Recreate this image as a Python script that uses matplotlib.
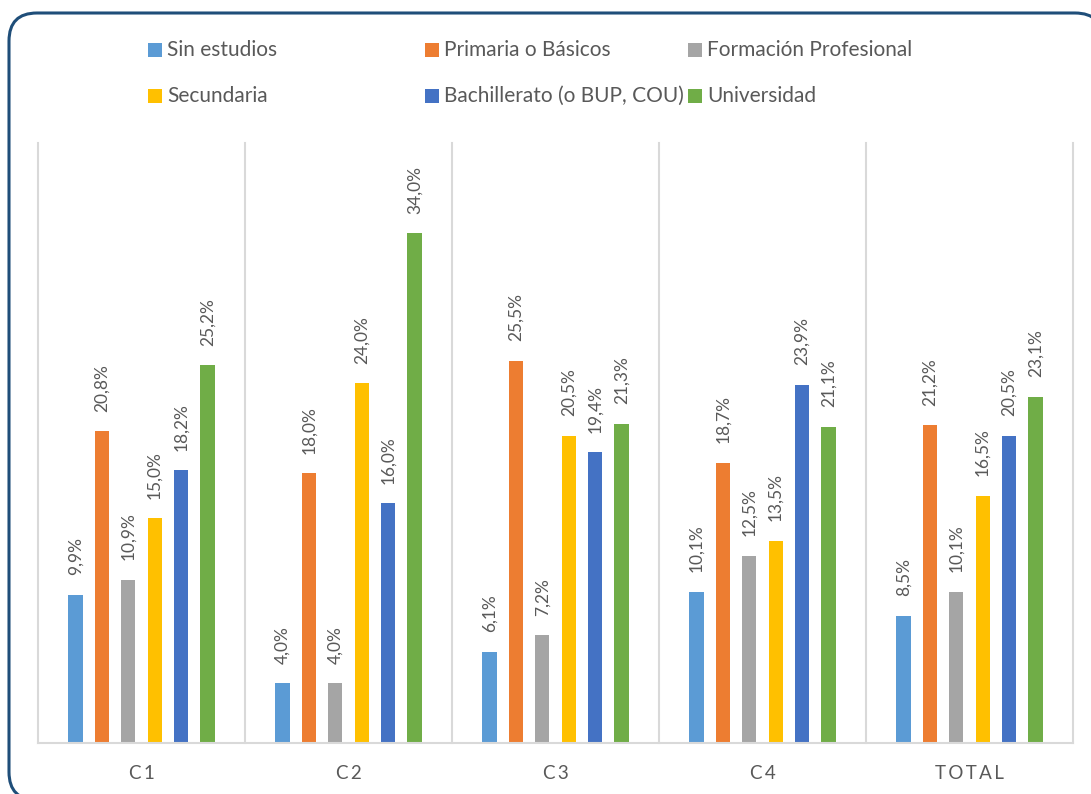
import matplotlib.pyplot as plt
import numpy as np
from matplotlib.patches import FancyBboxPatch, Rectangle

plt.rcParams['font.family'] = ['Lato', 'DejaVu Sans']

categories = ["C1", "C2", "C3", "C4", "TOTAL"]
series = ["Sin estudios", "Primaria o Básicos", "Formación Profesional",
          "Secundaria", "Bachillerato (o BUP, COU)", "Universidad"]
colors = ["#5B9BD5", "#ED7D31", "#A5A5A5", "#FFC000", "#4472C4", "#70AD47"]

sin_estudios = [9.9, 4.0, 6.1, 10.1, 8.5]
primaria = [20.8, 18.0, 25.5, 18.7, 21.2]
formacion = [10.9, 4.0, 7.2, 12.5, 10.1]
secundaria = [15.0, 24.0, 20.5, 13.5, 16.5]
bachillerato = [18.2, 16.0, 19.4, 23.9, 20.5]
universidad = [25.2, 34.0, 21.3, 21.1, 23.1]
values = [sin_estudios, primaria, formacion, secundaria, bachillerato, universidad]

W, H = 1091, 794
fig = plt.figure(figsize=(W / 100, H / 100), dpi=100)

# full-figure layer in pixel units for the frame and the legend
bg = fig.add_axes([0, 0, 1, 1])
bg.set_xlim(0, W)
bg.set_ylim(H, 0)
bg.axis("off")

ax = fig.add_axes([38 / W, 1 - 743 / H, (1073 - 38) / W, (743 - 143) / H])
ax.patch.set_alpha(0)

txt = "#595959"
grid_c = "#D9D9D9"
x = np.arange(len(categories))
step = 0.1275
bw = 0.068

for b in np.arange(-0.5, len(categories), 1.0):
    ax.axvline(b, color=grid_c, lw=1.5, zorder=0, clip_on=False)

for i, (name, vals, c) in enumerate(zip(series, values, colors)):
    pos = x + (i - 2.5) * step
    ax.bar(pos, vals, width=bw, color=c, zorder=2)
    for px, v in zip(pos, vals):
        ax.annotate(f"{v:.1f}%".replace(".", ","), xy=(px, v), xytext=(0, 14),
                    textcoords="offset points", rotation=90, ha="center",
                    va="bottom", color=txt, fontsize=12.5)

ax.set_xlim(-0.5, len(categories) - 0.5)
ax.set_ylim(0, 40)
ax.set_yticks([])
ax.set_xticks(x)
ax.set_xticklabels(["\u2009".join(c) for c in categories], color=txt, fontsize=13.5)
ax.tick_params(axis="x", length=0, pad=16)
for s in ["top", "left", "right"]:
    ax.spines[s].set_visible(False)
ax.spines["bottom"].set_color(grid_c)
ax.spines["bottom"].set_linewidth(1.5)

# legend laid out in a fixed 3x2 grid
leg_x = [148, 425, 688]
leg_y = [50, 96]
order = [(0, 0), (1, 0), (2, 0), (0, 1), (1, 1), (2, 1)]
for (col, row), name, c in zip(order, series, colors):
    bg.add_patch(Rectangle((leg_x[col], leg_y[row] - 7), 14, 14,
                           facecolor=c, edgecolor="none"))
    bg.text(leg_x[col] + 19, leg_y[row], name, color=txt,
            fontsize=15, va="center", ha="left")

# rounded frame around the chart (filled, so it runs off the canvas cleanly)
bg.add_patch(FancyBboxPatch((9, 13), 1094, 787,
                            boxstyle="round,pad=0,rounding_size=28",
                            facecolor="white", edgecolor="#1F4E79", lw=2.2,
                            clip_on=False, zorder=0))

fig.savefig("out.png", dpi=100)
